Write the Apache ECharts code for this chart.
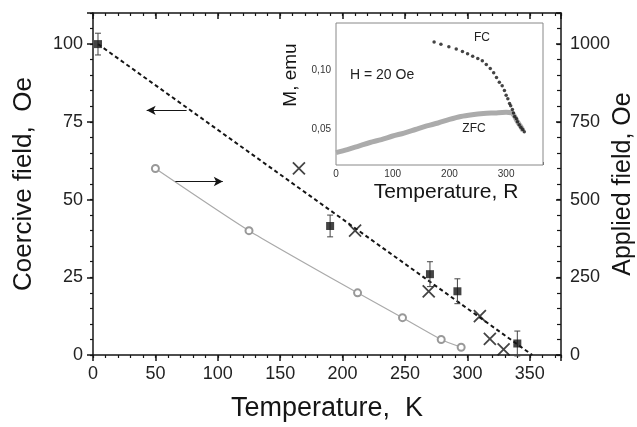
<!DOCTYPE html>
<html><head><meta charset="utf-8">
<script src="https://cdn.jsdelivr.net/npm/echarts@6/dist/echarts.min.js"></script>
<style>html,body{margin:0;padding:0;background:#fff}#c{width:637px;height:427px}</style>
</head><body><div id="c"></div>
<script>
// ---- data ----
const tempTicks = [0, 50, 100, 150, 200, 250, 300, 350];
const coerciveTicks = [0, 25, 50, 75, 100];
const appliedTicks = [0, 250, 500, 750, 1000];
const insetTempTicks = [0, 100, 200, 300];
const insetMTicks = [0.05, 0.10];

// coercive field (filled squares with error bars), Oe
const coerciveT = [4, 190, 270, 292, 340];
const coerciveH = [100, 41.5, 26, 20.5, 3.7];
const coerciveErr = [3.5, 3.5, 4, 4, 4];
// crosses, Oe
const crossT = [165, 210, 269, 310, 318, 329];
const crossH = [60, 40, 20.5, 12.5, 5.2, 1.8];
// dashed linear fit
const fitT = [4, 352];
const fitH = [100, 0];
// applied field (open circles), Oe
const appliedT = [50, 125, 212, 248, 279, 295];
const appliedH = [600, 400, 200, 120, 50, 25];
// inset: FC magnetisation
const fcT = [173, 185, 199, 212, 223, 232, 241, 250, 258, 265, 272, 278, 283, 288, 293, 297, 300, 303, 306, 308, 311, 313, 315, 318, 320, 323, 326, 329, 332];
const fcM = [0.124, 0.122, 0.120, 0.118, 0.116, 0.114, 0.112, 0.110, 0.108, 0.105, 0.1015, 0.098, 0.094, 0.090, 0.087, 0.083, 0.079, 0.076, 0.072, 0.070, 0.067, 0.064, 0.061, 0.059, 0.0565, 0.054, 0.052, 0.050, 0.048];
// inset: ZFC magnetisation
const zfcT = [0, 20, 40, 60, 80, 100, 120, 140, 160, 180, 200, 220, 240, 260, 280, 300, 310, 315, 320, 325, 330];
const zfcM = [0.0305, 0.033, 0.036, 0.039, 0.0415, 0.0445, 0.047, 0.050, 0.053, 0.0555, 0.0585, 0.061, 0.0625, 0.0635, 0.064, 0.0645, 0.064, 0.061, 0.0565, 0.053, 0.049];

const F = '"Liberation Sans", Arial, sans-serif';
const INK = '#151515';
const axLine = {show: true, onZero: false, lineStyle: {color: INK, width: 1.5}};
const noLine = {show: false, onZero: false};
const noSplit = {show: false};
const plain = v => String(v);

const chart = echarts.init(document.getElementById('c'), null, {renderer: 'canvas'});

const mainRect = {left: 93, top: 13, width: 468, height: 342, containLabel: false, outerBoundsMode: 'none'};

chart.setOption({
  animation: false,
  backgroundColor: '#fff',
  grid: [
    Object.assign({}, mainRect),
    Object.assign({}, mainRect),
    {left: 336, top: 23, width: 207, height: 142, containLabel: false, outerBoundsMode: 'none',
      show: true, borderColor: '#888', borderWidth: 1, backgroundColor: '#fff', z: 5}
  ],
  xAxis: [
    {gridIndex: 0, type: 'value', min: 0, max: 375, interval: 50, position: 'bottom', axisLine: axLine,
      axisTick: {show: true, inside: false, length: 6, lineStyle: {color: INK, width: 1.5}},
      axisLabel: {customValues: tempTicks, fontSize: 18, color: '#222', margin: 10, fontFamily: F, formatter: plain},
      splitLine: noSplit,
      name: 'Temperature,  K', nameLocation: 'middle', nameGap: 40, nameMoveOverlap: false,
      nameTextStyle: {fontSize: 27, color: INK, fontFamily: F}},
    {gridIndex: 0, type: 'value', min: 0, max: 375, interval: 50, position: 'top', axisLine: axLine,
      axisTick: {show: true, inside: true, length: 6, lineStyle: {color: INK, width: 1.5}},
      axisLabel: {show: false}, splitLine: noSplit},
    {gridIndex: 1, type: 'value', min: 0, max: 375, interval: 10, position: 'bottom', axisLine: noLine,
      axisTick: {show: true, inside: false, length: 3, lineStyle: {color: INK, width: 1.2}},
      axisLabel: {show: false}, splitLine: noSplit},
    {gridIndex: 1, type: 'value', min: 0, max: 375, interval: 10, position: 'top', axisLine: noLine,
      axisTick: {show: true, inside: true, length: 3, lineStyle: {color: INK, width: 1.2}},
      axisLabel: {show: false}, splitLine: noSplit},
    {gridIndex: 2, type: 'value', min: 0, max: 365, interval: 50, position: 'bottom', axisLine: noLine,
      axisTick: {show: true, inside: true, length: 3, lineStyle: {color: '#666', width: 1}},
      axisLabel: {customValues: insetTempTicks, fontSize: 10, color: '#333', margin: 4, fontFamily: F, formatter: plain},
      splitLine: noSplit}
  ],
  yAxis: [
    {gridIndex: 0, type: 'value', min: 0, max: 110, interval: 25, position: 'left', axisLine: axLine,
      axisTick: {show: true, inside: false, length: 6, lineStyle: {color: INK, width: 1.5}},
      axisLabel: {customValues: coerciveTicks, fontSize: 18, color: '#222', margin: 10, fontFamily: F, formatter: plain},
      splitLine: noSplit,
      name: 'Coercive field,  Oe', nameLocation: 'middle', nameRotate: 90, nameGap: 56, nameMoveOverlap: false,
      nameTextStyle: {fontSize: 26, color: INK, fontFamily: F}},
    {gridIndex: 0, type: 'value', min: 0, max: 1100, interval: 250, position: 'right', axisLine: axLine,
      axisTick: {show: true, inside: true, length: 5, lineStyle: {color: INK, width: 1.5}},
      axisLabel: {customValues: appliedTicks, fontSize: 18, color: '#222', margin: 9, fontFamily: F, formatter: plain},
      splitLine: noSplit,
      name: 'Applied field, Oe', nameLocation: 'middle', nameRotate: 90, nameGap: 50, nameMoveOverlap: false,
      nameTextStyle: {fontSize: 25, color: INK, fontFamily: F}},
    {gridIndex: 1, type: 'value', min: 0, max: 110, interval: 5, position: 'left', axisLine: noLine,
      axisTick: {show: true, inside: false, length: 3, lineStyle: {color: INK, width: 1.2}},
      axisLabel: {show: false}, splitLine: noSplit},
    {gridIndex: 1, type: 'value', min: 0, max: 1100, interval: 50, position: 'right', axisLine: noLine,
      axisTick: {show: true, inside: true, length: 4, lineStyle: {color: INK, width: 1.2}},
      axisLabel: {show: false}, splitLine: noSplit},
    {gridIndex: 2, type: 'value', min: 0.02, max: 0.14, interval: 0.01, position: 'left', axisLine: noLine,
      axisTick: {show: false},
      axisLabel: {customValues: insetMTicks, fontSize: 10, color: '#333', margin: 5, fontFamily: F,
        formatter: v => v.toFixed(2).replace('.', ',')},
      splitLine: noSplit}
  ],
  series: [
    {type: 'line', xAxisIndex: 0, yAxisIndex: 0, data: fitT.map((t, i) => [t, fitH[i]]),
      symbol: 'none', lineStyle: {color: INK, width: 2, type: [4, 3]}, z: 2,
      markLine: {silent: true, symbol: ['none', 'arrow'], symbolSize: [7, 9],
        label: {show: false}, lineStyle: {color: INK, width: 1, type: 'solid'},
        data: [
          [{coord: [75, 78.7]}, {coord: [43, 78.7]}],
          [{coord: [66, 55.8]}, {coord: [104, 55.8]}]
        ]}},
    {type: 'custom', xAxisIndex: 0, yAxisIndex: 0,
      data: coerciveT.map((t, i) => [t, coerciveH[i] - coerciveErr[i], coerciveH[i] + coerciveErr[i]]),
      renderItem: (params, api) => {
        const lo = api.coord([api.value(0), api.value(1)]);
        const hi = api.coord([api.value(0), api.value(2)]);
        const w = 3;
        const st = {stroke: '#444', lineWidth: 1};
        return {type: 'group', children: [
          {type: 'line', shape: {x1: lo[0], y1: lo[1], x2: hi[0], y2: hi[1]}, style: st},
          {type: 'line', shape: {x1: lo[0] - w, y1: lo[1], x2: lo[0] + w, y2: lo[1]}, style: st},
          {type: 'line', shape: {x1: hi[0] - w, y1: hi[1], x2: hi[0] + w, y2: hi[1]}, style: st}
        ]};
      }, z: 3},
    {type: 'scatter', xAxisIndex: 0, yAxisIndex: 0, data: coerciveT.map((t, i) => [t, coerciveH[i]]),
      symbol: 'rect', symbolSize: 8, itemStyle: {color: INK}, z: 4},
    {type: 'scatter', xAxisIndex: 0, yAxisIndex: 0, data: crossT.map((t, i) => [t, crossH[i]]),
      symbol: 'path://M0,0L10,10M10,0L0,10', symbolSize: 12,
      itemStyle: {color: 'none', borderColor: INK, borderWidth: 1.8}, z: 4},
    {type: 'line', xAxisIndex: 0, yAxisIndex: 1, data: appliedT.map((t, i) => [t, appliedH[i]]),
      smooth: 0.2, symbol: 'emptyCircle', symbolSize: 7, showSymbol: true,
      itemStyle: {color: '#999', borderWidth: 1},
      lineStyle: {color: '#aaa', width: 1.2}, z: 3},
    {type: 'line', xAxisIndex: 4, yAxisIndex: 4, data: zfcT.map((t, i) => [t, zfcM[i]]),
      symbol: 'none', smooth: 0.3, lineStyle: {color: '#ababab', width: 5}, z: 6},
    {type: 'scatter', xAxisIndex: 4, yAxisIndex: 4, data: fcT.map((t, i) => [t, fcM[i]]),
      symbol: 'circle', symbolSize: 3.5, itemStyle: {color: INK}, z: 7}
  ],
  graphic: [
    {type: 'text', x: 291, y: 75, rotation: Math.PI / 2, z: 100,
      style: {text: 'M, emu', font: '19px ' + F, fill: INK, textAlign: 'center', textVerticalAlign: 'middle', align: 'center', verticalAlign: 'middle'}},
    {type: 'text', x: 350, y: 75, z: 100,
      style: {text: 'H = 20 Oe', font: '14px ' + F, fill: '#222', textAlign: 'left', textVerticalAlign: 'middle', align: 'left', verticalAlign: 'middle'}},
    {type: 'text', x: 482, y: 38, z: 100,
      style: {text: 'FC', font: '12px ' + F, fill: '#222', textAlign: 'center', textVerticalAlign: 'middle', align: 'center', verticalAlign: 'middle'}},
    {type: 'text', x: 474, y: 129, z: 100,
      style: {text: 'ZFC', font: '12px ' + F, fill: '#222', textAlign: 'center', textVerticalAlign: 'middle', align: 'center', verticalAlign: 'middle'}},
    {type: 'text', x: 446, y: 192, z: 100,
      style: {text: 'Temperature, R', font: '21px ' + F, fill: INK, textAlign: 'center', textVerticalAlign: 'middle', align: 'center', verticalAlign: 'middle'}}
  ]
});
</script>
</body></html>
